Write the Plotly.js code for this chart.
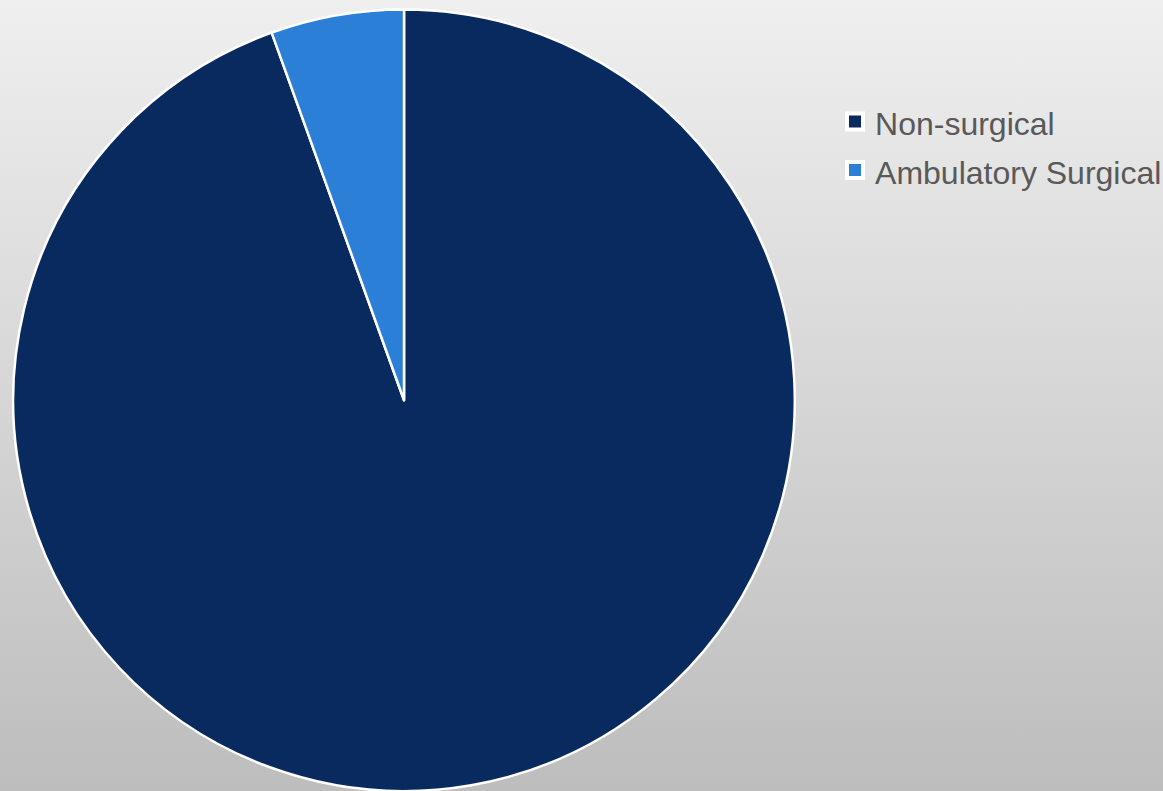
<!DOCTYPE html>
<html>
<head>
<meta charset="utf-8">
<script src="https://cdn.plot.ly/plotly-3.0.1.min.js"></script>
<style>
  html, body { margin: 0; padding: 0; }
  body { width: 1163px; height: 791px; overflow: hidden;
         background: linear-gradient(to bottom, #efefef 0%, #bdbdbd 100%); }
  #chart { width: 1163px; height: 791px; }
</style>
</head>
<body>
<div id="chart"></div>
<script>
const categories = ["Non-surgical", "Ambulatory Surgical"];
const shares = [94.5, 5.5];
const sliceColors = ["#092a5f", "#2b7fd7"];

const pieTrace = {
  type: "pie",
  labels: categories,
  values: shares,
  sort: false,
  direction: "clockwise",
  rotation: 0,
  textinfo: "none",
  hoverinfo: "label+percent",
  showlegend: false,
  marker: { colors: sliceColors, line: { color: "#ffffff", width: 2.5 } },
  domain: { x: [0.0074, 0.6874], y: [0.0, 0.988] }
};

// legend entries, one per category, styled like the reference's square keys
const legendTraces = categories.map((c, i) => ({
  type: "scatter",
  mode: "markers",
  x: [null], y: [null],
  name: '<span style="font-size:32px">' + c + '</span>',
  showlegend: true,
  hoverinfo: "skip",
  marker: { symbol: "square", size: 16, color: sliceColors[i], line: { color: "#ffffff", width: 4 } }
}));

const layout = {
  width: 1163,
  height: 791,
  margin: { l: 0, r: 0, t: 0, b: 0, autoexpand: false },
  paper_bgcolor: "rgba(0,0,0,0)",
  plot_bgcolor: "rgba(0,0,0,0)",
  showlegend: true,
  xaxis: { visible: false, domain: [0.75, 1] },
  yaxis: { visible: false },
  legend: {
    x: 0.7180, xanchor: "left", xref: "paper",
    y: 0.8835, yanchor: "top", yref: "paper",
    font: { family: "Liberation Sans, Arial, sans-serif", size: 35, color: "#595959" },
    bgcolor: "rgba(0,0,0,0)",
    traceorder: "normal",
    itemsizing: "trace",
    itemclick: false, itemdoubleclick: false
  },
  font: { family: "Liberation Sans, Arial, sans-serif" }
};

Plotly.newPlot("chart", [pieTrace].concat(legendTraces), layout, { displayModeBar: false, staticPlot: true });
</script>
</body>
</html>
